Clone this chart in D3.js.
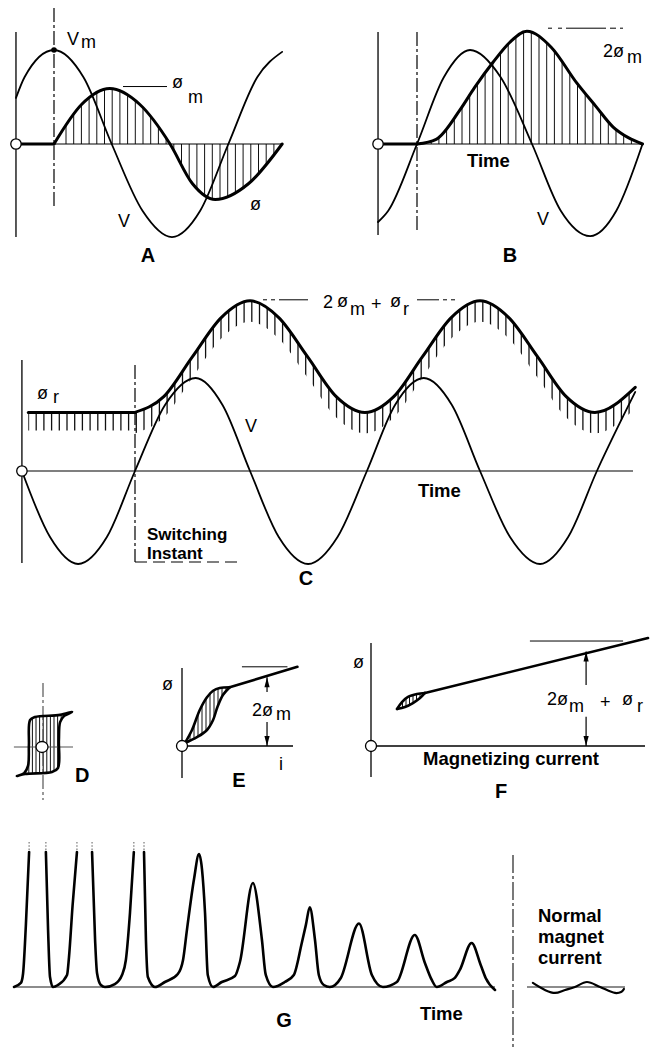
<!DOCTYPE html>
<html>
<head>
<meta charset="utf-8">
<script src="https://cdn.jsdelivr.net/npm/d3@7"></script>
<style>
  body { margin: 0; background: #fff; }
  text { font-family: "Liberation Sans", Arial, Helvetica, sans-serif; fill: #000; }
  .lbl { font-size: 18px; }
  .bold { font-size: 18.5px; font-weight: bold; }
  .small { font-size: 17px; font-weight: bold; }
  .panel { font-size: 20px; font-weight: bold; }
</style>
</head>
<body>
<div id="viz_container"></div>
<script>
// ---------- data (time in electrical degrees from the switching instant, values in Vm units) ----------
// panel A: switching at voltage peak
const voltA = [[-58, 0.49], [-45, 0.71], [0, 1], [45, 0.71], [88, 0], [135, -0.71], [180, -0.99], [223, -0.71], [266, 0], [310, 0.71], [348, 0.98]];
const fluxA = [[0, 0], [42, 0.42], [85, 0.59], [131, 0.42], [177, 0], [211, -0.42], [246, -0.59], [297, -0.42], [348, 0]];
const restA = [[-58, 0], [0, 0]];
// panel B: switching at voltage zero
const voltB = [[-61, -0.83], [-45, -0.71], [0, 0], [42, 0.71], [83, 1], [131, 0.71], [180, 0], [225, -0.71], [271, -0.98], [312, -0.71], [353, 0]];
const fluxB = [[0, 0], [30, 0.05], [67, 0.36], [90, 0.6], [119, 0.87], [145, 1.08], [172, 1.2], [210, 1.03], [250, 0.65], [280, 0.4], [307, 0.18], [330, 0.07], [353, 0]];
const restB = [[-61, 0], [0, 0]];
// panel C: switching at voltage zero with residual flux
const voltC = [[-177, 0], [-133, -0.71], [-89, -1], [-44, -0.71], [0, 0], [47, 0.71], [95, 1], [137, 0.71], [180, 0], [225, -0.71],
               [271, -1], [317, -0.71], [363, 0], [407, 0.71], [452, 1], [496, 0.71], [540, 0], [587, -0.71], [634, -1], [678, -0.71],
               [723, 0], [783, 0.85]];
const fluxC = [[0, 0.63], [45, 0.8], [90, 1.23], [135, 1.65], [180, 1.83], [225, 1.65], [270, 1.23], [315, 0.8], [360, 0.63],
               [405, 0.8], [450, 1.23], [495, 1.65], [540, 1.83], [585, 1.65], [630, 1.23], [675, 0.8], [720, 0.63], [783, 0.9]];
const restC = [[-167, 0.63], [0, 0.63]];

// panel D: hysteresis loop (normalised i, flux), ascending then descending branch
const loopD = [[-0.87, -0.97], [-0.6, -0.9], [0.3, -0.83], [0.5, -0.7], [0.53, 0.23], [0.57, 0.83], [0.7, 1.03], [0.97, 1.17],
               [0.57, 1.07], [-0.27, 1.0], [-0.43, 0.9], [-0.47, 0.07], [-0.5, -0.63], [-0.63, -0.87]];

// panel E: magnetizing curve, loop branches and saturated part
const upperE = [[0.027, 0.038], [0.09, 0.2], [0.16, 0.45], [0.225, 0.61], [0.28, 0.69], [0.34, 0.725], [0.43, 0.735]];
const lowerE = [[0.027, 0.038], [0.135, 0.11], [0.225, 0.2], [0.28, 0.325], [0.32, 0.49], [0.37, 0.64], [0.43, 0.735]];
const satE = [[0.43, 0.735], [1.04, 0.99]];
const levelE = { i: 0.766, top: 0.86, upper: 0.675, lower: 0.3, ref: 0.99, refFrom: 0.54, refTo: 0.95 };

// panel F: same curve at larger scale
const upperF = [[0.095, 0.343], [0.113, 0.407], [0.135, 0.454], [0.168, 0.481], [0.197, 0.491]];
const lowerF = [[0.095, 0.343], [0.124, 0.361], [0.153, 0.398], [0.179, 0.444], [0.197, 0.491]];
const satF = [[0.197, 0.491], [1.011, 1.0]];
const levelF = { i: 0.785, top: 0.875, upper: 0.565, lower: 0.27, ref: 0.972, refFrom: 0.58, refTo: 0.92 };

// panel G: inrush current (ms, % of clipped height); clipped peaks split the trace
const inrushG = [
  [[0, 0], [2.5, 3], [3.3, 10], [4.3, 45], [5.5, 100]],
  [[11.6, 100], [12.4, 42], [13.1, 7.4], [14.2, 0], [16, 1.5], [19.3, 8.9], [20, 22], [21.3, 60], [22.9, 100]],
  [[28.4, 100], [29.5, 35], [30.2, 10.4], [31.6, 1.5], [33.1, 0], [36.7, 2.2], [39.3, 8.9], [40.7, 20], [42.2, 55], [43.6, 100]],
  [[47.3, 100], [48, 35], [48.7, 7.4], [51.3, 0], [54.9, 3.7], [59.6, 9.6], [61.5, 20], [62.9, 42], [65.5, 80], [67.3, 98.5],
   [69.5, 55], [70.5, 8.9], [72.4, 0], [75.6, 3.7], [80.4, 8.1], [82.2, 18.5], [86.9, 77], [90.2, 35], [91.6, 8.9], [94.2, 0],
   [98.5, 3.7], [101.8, 8.9], [104.7, 32.6], [106.2, 46], [107.6, 59], [109.5, 35], [110.9, 8.9], [112.7, 1.5], [114.9, 0],
   [118.9, 6.7], [125.5, 47], [130.2, 8.9], [134.2, 0], [139.3, 3.7], [145.8, 38.5], [149.5, 17.8], [152, 5.2], [153.8, 0],
   [157.5, 3.7], [160.4, 6.7], [162.2, 12.6], [166.5, 32.6], [169.8, 16.3], [171.6, 6.7], [175, -2.2]]
];
const normalG = [[2.1, 3], [6.4, -2.2], [10, -4.4], [13.6, -2.2], [17.1, 0], [21.4, 3.7], [26.1, 0], [31.4, -4.4], [33.6, -3.7], [34.6, -1.5]];

// ---------- svg ----------
const svg = d3.select("#viz_container").append("svg")
  .attr("width", 654).attr("height", 1049);
const defs = svg.append("defs");
const wave = d3.curveMonotoneX;

// helpers
function curveLine(g, data, x, y, curve, w, color) {
  return g.append("path").datum(data)
    .attr("d", d3.line().x(d => x(d[0])).y(d => y(d[1])).curve(curve))
    .attr("fill", "none").attr("stroke", color || "#000").attr("stroke-width", w)
    .attr("stroke-linejoin", "round").attr("stroke-linecap", "round");
}
function rule(g, x1, y1, x2, y2, w, dash, color) {
  return g.append("line")
    .attr("x1", x1).attr("y1", y1).attr("x2", x2).attr("y2", y2)
    .attr("stroke", color || "#000").attr("stroke-width", w)
    .attr("stroke-dasharray", dash || null);
}
function hatch(g, id, shapes, xs, yTop, yBot, w) {
  const cp = defs.append("clipPath").attr("id", id);
  shapes.forEach(s => cp.append("path").attr("d", s));
  g.append("g").attr("clip-path", `url(#${id})`)
    .selectAll("line").data(xs).join("line")
    .attr("x1", d => d).attr("x2", d => d)
    .attr("y1", yTop).attr("y2", yBot)
    .attr("stroke", "#111").attr("stroke-width", w);
}
function origin(g, cx, cy, rx, ry) {
  g.append("ellipse").attr("cx", cx).attr("cy", cy).attr("rx", rx).attr("ry", ry || rx)
    .attr("fill", "#fff").attr("stroke", "#000").attr("stroke-width", 1.3);
}
function label(g, x, y, s, cls, anchor) {
  g.append("text").attr("class", cls || "lbl").attr("x", x).attr("y", y)
    .attr("text-anchor", anchor || "start").text(s);
}
function arrowhead(g, x, yTip, dir) {
  // dir = -1 pointing up, +1 pointing down
  const len = 10, hw = 2.6;
  g.append("path")
    .attr("d", `M${x},${yTip} L${x - hw},${yTip - dir * len} L${x + hw},${yTip - dir * len} Z`)
    .attr("fill", "#000");
}
const dashDot = "14,3,3,3";

// ---------- panel A ----------
const gA = svg.append("g");
const xA = d3.scaleLinear().domain([0, 180]).range([54, 172]);
const yA = d3.scaleLinear().domain([-1, 1]).range([238, 50]);

hatch(gA, "clipA",
  [d3.area().x(d => xA(d[0])).y0(yA(0)).y1(d => yA(d[1])).curve(wave)(fluxA)],
  d3.range(66, xA(348), 7.7), 40, 240, 1);
rule(gA, xA(-58), 32, xA(-58), 237, 1.3);
rule(gA, xA(0), 8, xA(0), 207, 1.2, dashDot);
rule(gA, xA(-58), yA(0), xA(348), yA(0), 1.2);
curveLine(gA, voltA, xA, yA, wave, 1.8);
curveLine(gA, restA, xA, yA, d3.curveLinear, 3);
curveLine(gA, fluxA, xA, yA, wave, 3);
origin(gA, xA(-58), yA(0), 5.2);
gA.append("circle").attr("cx", xA(0)).attr("cy", yA(1)).attr("r", 2.8).attr("fill", "#000");
label(gA, 67, 45, "V");
label(gA, 81, 48, "m");
rule(gA, 123, yA(0.59) - 2, 167, yA(0.59) - 2, 1);
label(gA, 172, 88, "ø");
label(gA, 188, 103, "m");
label(gA, 118, 227, "V");
label(gA, 250, 210, "ø");
label(gA, 148, 262, "A", "panel", "middle");

// ---------- panel B ----------
const gB = svg.append("g");
const xB = d3.scaleLinear().domain([0, 180]).range([417, 532]);
const yB = d3.scaleLinear().domain([-1, 1]).range([238, 50]);

hatch(gB, "clipB",
  [d3.area().x(d => xB(d[0])).y0(yB(0)).y1(d => yB(d[1])).curve(wave)(fluxB)],
  d3.range(423.5, xB(353), 7.7), 20, 240, 1);
rule(gB, xB(-61), 32, xB(-61), 235, 1.3);
rule(gB, xB(0), 32, xB(0), 230, 1.2, dashDot);
rule(gB, xB(-61), yB(0), xB(353), yB(0), 1.2);
curveLine(gB, voltB, xB, yB, wave, 1.8);
curveLine(gB, restB, xB, yB, d3.curveLinear, 3);
curveLine(gB, fluxB, xB, yB, wave, 3);
origin(gB, xB(-61), yB(0), 5.2);
rule(gB, 548, yB(1.2) - 3, 623, yB(1.2) - 3, 1, "4,6,4,4,40");
label(gB, 603, 57, "2ø");
label(gB, 627, 63, "m");
label(gB, 467, 167, "Time", "bold");
label(gB, 537, 225, "V");
label(gB, 510, 262, "B", "panel", "middle");

// ---------- panel C ----------
const gC = svg.append("g");
const xC = d3.scaleLinear().domain([0, 180]).range([135, 250]);
const yC = d3.scaleLinear().domain([-1, 1]).range([564, 378]);
const fringe = 21;

hatch(gC, "clipC",
  [d3.area().x(d => xC(d[0])).y0(d => yC(d[1]) + fringe).y1(d => yC(d[1])).curve(wave)(fluxC),
   d3.area().x(d => xC(d[0])).y0(d => yC(d[1]) + fringe - 3).y1(d => yC(d[1]))(restC)],
  d3.range(28.5, xC(783) + 1, 7.7), 290, 440, 1.3);
rule(gC, xC(-177), 360, xC(-177), 563, 1.3);
rule(gC, xC(0), 365, xC(0), 562, 1.2, dashDot);
rule(gC, xC(0), 562, 238, 562, 1.2, "12,6");
rule(gC, xC(-177), yC(0), 633, yC(0), 1.2);
curveLine(gC, voltC, xC, yC, wave, 1.8);
curveLine(gC, restC, xC, yC, d3.curveLinear, 3);
curveLine(gC, fluxC, xC, yC, wave, 3);
origin(gC, xC(-177), yC(0), 5.2);
rule(gC, 263, yC(1.83) - 1, 308, yC(1.83) - 1, 1, "4,4,4,4,30");
rule(gC, 417, yC(1.83) - 1, 465, yC(1.83) - 1, 1, "22,4,4,4,4");
label(gC, 37, 399, "ø");
label(gC, 53, 403, "r");
[[323, 308, "2"], [337, 307, "ø"], [350, 315, "m"], [371, 310, "+"], [390, 307, "ø"], [403, 315, "r"]]
  .forEach(t => label(gC, t[0], t[1], t[2]));
label(gC, 245, 432, "V");
label(gC, 418, 497, "Time", "bold");
label(gC, 147, 540, "Switching", "small");
label(gC, 147, 559, "Instant", "small");
label(gC, 306, 585, "C", "panel", "middle");

// ---------- panel D ----------
const gD = svg.append("g");
const xD = d3.scaleLinear().domain([-1, 1]).range([13, 73]);
const yD = d3.scaleLinear().domain([-1, 1]).range([777, 717]);
const loopPathD = d3.line().x(d => xD(d[0])).y(d => yD(d[1])).curve(d3.curveCatmullRomClosed.alpha(0.5))(loopD);
hatch(gD, "clipD", [loopPathD], d3.range(18, 73, 3.6), 700, 790, 1);
rule(gD, xD(0), 683, xD(0), 800, 1.2, dashDot, "#555");
rule(gD, xD(-0.97), yD(0), xD(1), yD(0), 1.2, null, "#555");
gD.append("path").attr("d", loopPathD).attr("fill", "none")
  .attr("stroke", "#000").attr("stroke-width", 2.6).attr("stroke-linejoin", "round");
origin(gD, xD(0) - 1, yD(0), 6, 5.5);
label(gD, 75, 782, "D", "panel");

// ---------- panel E ----------
const gE = svg.append("g");
const xE = d3.scaleLinear().domain([0, 1]).range([182, 293]);
const yE = d3.scaleLinear().domain([0, 1]).range([746, 666]);
const loopPathE = d3.line().x(d => xE(d[0])).y(d => yE(d[1])).curve(d3.curveCatmullRom.alpha(0.5))(upperE.concat(lowerE.slice().reverse()));
hatch(gE, "clipE", [loopPathE], d3.range(186, 232, 4), 660, 750, 1);
rule(gE, xE(0), 668, xE(0), 778, 1.3);
rule(gE, xE(0), yE(0), xE(1), yE(0), 1.3);
curveLine(gE, upperE, xE, yE, d3.curveCatmullRom.alpha(0.5), 2.6);
curveLine(gE, lowerE, xE, yE, d3.curveCatmullRom.alpha(0.5), 2.6);
curveLine(gE, satE, xE, yE, d3.curveLinear, 2.6);
origin(gE, xE(0), yE(0), 5.5);
rule(gE, xE(levelE.refFrom), yE(levelE.ref), xE(levelE.refTo), yE(levelE.ref), 1);
rule(gE, xE(levelE.i), yE(levelE.top), xE(levelE.i), yE(levelE.upper), 1.2);
arrowhead(gE, xE(levelE.i), yE(levelE.top), -1);
rule(gE, xE(levelE.i), yE(levelE.lower), xE(levelE.i), yE(0), 1.2);
arrowhead(gE, xE(levelE.i), yE(0), 1);
label(gE, 162, 690, "ø");
label(gE, 252, 716, "2ø");
label(gE, 276, 720, "m");
label(gE, 279, 770, "i");
label(gE, 239, 787, "E", "panel", "middle");

// ---------- panel F ----------
const gF = svg.append("g");
const xF = d3.scaleLinear().domain([0, 1]).range([371, 645]);
const yF = d3.scaleLinear().domain([0, 1]).range([746, 638]);
const loopPathF = d3.line().x(d => xF(d[0])).y(d => yF(d[1])).curve(d3.curveCatmullRom.alpha(0.5))(upperF.concat(lowerF.slice().reverse()));
hatch(gF, "clipF", [loopPathF], d3.range(399, 427, 3.5), 680, 720, 1);
rule(gF, xF(0), 643, xF(0), 777, 1.3);
rule(gF, xF(0), yF(0), xF(1), yF(0), 1.3);
curveLine(gF, upperF, xF, yF, d3.curveCatmullRom.alpha(0.5), 2.6);
curveLine(gF, lowerF, xF, yF, d3.curveCatmullRom.alpha(0.5), 2.6);
curveLine(gF, satF, xF, yF, d3.curveLinear, 2.6);
origin(gF, xF(0), yF(0), 5.5);
rule(gF, xF(levelF.refFrom), yF(levelF.ref), xF(levelF.refTo), yF(levelF.ref), 1);
rule(gF, xF(levelF.i), yF(levelF.top), xF(levelF.i), yF(levelF.upper), 1.2);
arrowhead(gF, xF(levelF.i), yF(levelF.top), -1);
rule(gF, xF(levelF.i), yF(levelF.lower), xF(levelF.i), yF(0), 1.2);
arrowhead(gF, xF(levelF.i), yF(0), 1);
label(gF, 353, 668, "ø");
[[547, 705, "2ø"], [569, 712, "m"], [600, 708, "+"], [622, 705, "ø"], [637, 712, "r"]]
  .forEach(t => label(gF, t[0], t[1], t[2]));
label(gF, 511, 765, "Magnetizing current", "bold", "middle");
label(gF, 501, 798, "F", "panel", "middle");

// ---------- panel G ----------
const gG = svg.append("g");
const xG = d3.scaleLinear().domain([0, 175]).range([14, 495]);
const yG = d3.scaleLinear().domain([0, 100]).range([987, 852]);
const xN = d3.scaleLinear().domain([0, 35]).range([527, 625]);

rule(gG, xG(0), yG(0), xG(175), yG(0), 1.5, null, "#666");
inrushG.forEach(seg => curveLine(gG, seg, xG, yG, d3.curveMonotoneX, 2.6));
// clipped peaks continue off the drawing
const clipped = inrushG.flatMap(seg => [seg[0], seg[seg.length - 1]]).filter(d => d[1] >= 100);
gG.selectAll(".cut").data(clipped).join("line").attr("class", "cut")
  .attr("x1", d => xG(d[0])).attr("x2", d => xG(d[0]))
  .attr("y1", yG(100) - 2).attr("y2", yG(108))
  .attr("stroke", "#777").attr("stroke-width", 1.2).attr("stroke-dasharray", "1.5,1.8");
rule(gG, 513, 855, 513, 1047, 1.3, "18,3,3,3", "#333");
rule(gG, xN(0), yG(0), xN(35), yG(0), 1.3, null, "#666");
curveLine(gG, normalG, xN, yG, d3.curveCatmullRom.alpha(0.5), 2.2);
label(gG, 538, 922, "Normal", "bold");
label(gG, 538, 943, "magnet", "bold");
label(gG, 538, 964, "current", "bold");
label(gG, 420, 1020, "Time", "bold");
label(gG, 284, 1027, "G", "panel", "middle");
</script>
</body>
</html>
